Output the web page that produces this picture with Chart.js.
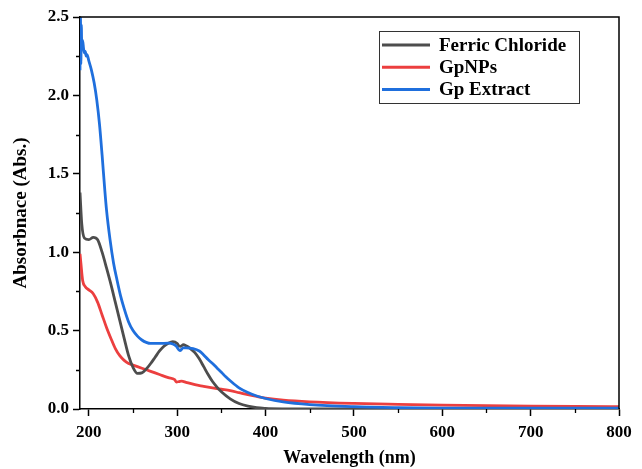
<!DOCTYPE html>
<html>
<head>
<meta charset="utf-8">
<script src="https://cdn.jsdelivr.net/npm/chart.js@4"></script>
<style>
  body { margin: 0; background: #fff; }
</style>
</head>
<body>
<canvas id="uvChart" width="642" height="469"></canvas>
<script>
const FONT = "'Liberation Serif', 'Times New Roman', serif"

// UV-Vis spectra, wavelength (nm) vs absorbance
const ferricNm  = [190, 192, 195, 200, 205, 210, 215, 220, 225, 230, 235, 240, 245, 250, 255, 260, 265, 270, 275, 280, 285, 290, 295, 300, 302, 304, 307, 310, 315, 320, 325, 330, 335, 340, 345, 350, 360, 370, 380, 390, 400, 420, 450, 500, 600, 700, 800]
const ferricAbs = [1.38, 1.18, 1.09, 1.08, 1.095, 1.08, 1.0, 0.9, 0.795, 0.68, 0.565, 0.45, 0.34, 0.265, 0.227, 0.23, 0.255, 0.29, 0.33, 0.37, 0.4, 0.42, 0.43, 0.418, 0.402, 0.4, 0.41, 0.403, 0.385, 0.36, 0.32, 0.27, 0.22, 0.175, 0.14, 0.11, 0.065, 0.035, 0.018, 0.008, 0.004, 0.001, 0, 0, 0, 0, 0]

const gpnpNm  = [190, 191, 193, 196, 200, 205, 210, 215, 220, 225, 230, 235, 240, 245, 250, 260, 270, 280, 290, 297, 299, 302, 305, 310, 320, 330, 340, 350, 360, 370, 380, 390, 400, 420, 450, 500, 550, 600, 650, 700, 750, 800]
const gpnpAbs = [0.99, 0.93, 0.82, 0.78, 0.76, 0.735, 0.68, 0.6, 0.52, 0.45, 0.385, 0.34, 0.31, 0.29, 0.28, 0.26, 0.24, 0.22, 0.2, 0.188, 0.172, 0.175, 0.178, 0.17, 0.155, 0.145, 0.135, 0.126, 0.117, 0.104, 0.091, 0.08, 0.07, 0.057, 0.046, 0.036, 0.03, 0.025, 0.021, 0.018, 0.016, 0.015]

const extractNm  = [190, 190.5, 191, 191.5, 192, 193, 194, 195, 196, 197, 198, 200, 203, 206, 209, 212, 215, 218, 220, 224, 228, 232, 236, 240, 245, 250, 255, 260, 265, 270, 280, 290, 295, 299, 303, 307, 310, 318, 325, 330, 335, 340, 345, 350, 355, 360, 370, 380, 390, 400, 420, 450, 500, 550, 600, 700, 800]
const extractAbs = [2.16, 2.5, 2.2, 2.45, 2.3, 2.35, 2.3, 2.27, 2.28, 2.25, 2.26, 2.22, 2.16, 2.08, 1.97, 1.82, 1.62, 1.4, 1.27, 1.08, 0.93, 0.82, 0.72, 0.64, 0.555, 0.5, 0.465, 0.44, 0.425, 0.418, 0.418, 0.42, 0.415, 0.4, 0.372, 0.39, 0.39, 0.385, 0.37, 0.345, 0.315, 0.29, 0.262, 0.235, 0.205, 0.18, 0.135, 0.105, 0.083, 0.067, 0.045, 0.028, 0.015, 0.009, 0.006, 0.005, 0.005]

const xTicks = [200, 300, 400, 500, 600, 700, 800]
const xMinor = [250, 350, 450, 550, 650, 750]
const yTicks = [0, 0.5, 1.0, 1.5, 2.0, 2.5]
const yMinor = [0.25, 0.75, 1.25, 1.75, 2.25]

const toPoints = (xs, ys) => xs.map((x, i) => ({x: x, y: ys[i]}))

// box frame, short minor ticks and the legend box in the top right
const framePlugin = {
  id: 'frameAndLegend',
  afterDraw(chart) {
    const {ctx, chartArea: a, scales: {x, y}} = chart
    ctx.save()
    ctx.strokeStyle = '#000'
    ctx.lineWidth = 1.5
    ctx.beginPath()
    ctx.moveTo(a.left, a.top)
    ctx.lineTo(a.right, a.top)
    ctx.lineTo(a.right, a.bottom)
    ctx.stroke()

    ctx.lineWidth = 1.3
    ctx.beginPath()
    xMinor.forEach(v => {
      const px = Math.round(x.getPixelForValue(v)) + 0.5
      ctx.moveTo(px, a.bottom)
      ctx.lineTo(px, a.bottom + 4)
    })
    yMinor.forEach(v => {
      const py = Math.round(y.getPixelForValue(v)) + 0.5
      ctx.moveTo(a.left, py)
      ctx.lineTo(a.left - 4, py)
    })
    ctx.stroke()

    // legend
    ctx.lineWidth = 1
    ctx.strokeStyle = '#333'
    ctx.strokeRect(379.5, 31.5, 200, 72)
    ctx.font = 'bold 19px ' + FONT
    ctx.textBaseline = 'middle'
    ctx.textAlign = 'left'
    chart.data.datasets.forEach((ds, i) => {
      const ry = 45 + i * 22.2
      ctx.strokeStyle = ds.borderColor
      ctx.lineWidth = 3
      ctx.beginPath()
      ctx.moveTo(382, ry)
      ctx.lineTo(430, ry)
      ctx.stroke()
      ctx.fillStyle = '#000'
      ctx.fillText(ds.label, 439, ry + 1)
    })
    ctx.restore()
  }
}

const CHART = document.getElementById('uvChart')

let uvChart = new Chart(CHART, {
  type: 'line',
  data: {
    datasets: [
      {
        label: 'Ferric Chloride',
        data: toPoints(ferricNm, ferricAbs),
        borderColor: '#4d4d4d',
        borderWidth: 2.8,
        order: 1
      },
      {
        label: 'GpNPs',
        data: toPoints(gpnpNm, gpnpAbs),
        borderColor: '#ec3f3f',
        borderWidth: 2.8,
        order: 2
      },
      {
        label: 'Gp Extract',
        data: toPoints(extractNm, extractAbs),
        borderColor: '#1f6fdd',
        borderWidth: 2.8,
        order: 0
      }
    ]
  },
  options: {
    responsive: false,
    animation: false,
    devicePixelRatio: 1,
    layout: { padding: { top: 17, right: 23, left: 0, bottom: 0 } },
    elements: {
      point: { radius: 0 },
      line: { cubicInterpolationMode: 'monotone', fill: false }
    },
    plugins: {
      legend: { display: false },
      tooltip: { enabled: false }
    },
    scales: {
      x: {
        type: 'linear',
        min: 190,
        max: 800,
        afterBuildTicks: s => { s.ticks = xTicks.map(v => ({value: v})) },
        afterFit: s => { s.height = 60 },
        ticks: {
          callback: v => String(v),
          font: { family: FONT, size: 17, weight: 'bold' },
          color: '#000',
          padding: 6,
          maxRotation: 0,
          autoSkip: false
        },
        grid: { drawOnChartArea: false, tickLength: 7, tickWidth: 1.5, color: '#000' },
        border: { color: '#000', width: 1.5 },
        title: {
          display: true,
          text: 'Wavelength (nm)',
          font: { family: FONT, size: 18, weight: 'bold' },
          color: '#000',
          padding: { top: 0, bottom: 0 }
        }
      },
      y: {
        min: 0,
        max: 2.5,
        afterBuildTicks: s => { s.ticks = yTicks.map(v => ({value: v})) },
        afterFit: s => { s.width = 80 },
        ticks: {
          callback: v => v.toFixed(1),
          font: { family: FONT, size: 17, weight: 'bold' },
          color: '#000',
          padding: 4,
          autoSkip: false
        },
        grid: { drawOnChartArea: false, tickLength: 7, tickWidth: 1.5, color: '#000' },
        border: { color: '#000', width: 1.5 },
        title: {
          display: true,
          text: 'Absorbnace (Abs.)',
          font: { family: FONT, size: 19, weight: 'bold' },
          color: '#000',
          padding: { top: 10, bottom: 0 }
        }
      }
    }
  },
  plugins: [framePlugin]
})
</script>
</body>
</html>
